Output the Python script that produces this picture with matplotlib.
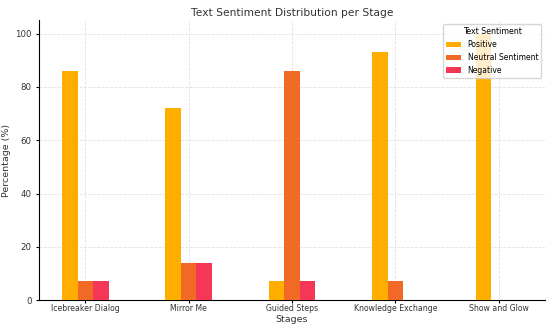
import matplotlib.pyplot as plt
import numpy as np

# 数据
stages = ['Icebreaker Dialog', 'Mirror Me', 'Guided Steps', 'Knowledge Exchange', 'Show and Glow']
positive = [86, 72, 7, 93, 100]
neutral = [7, 14, 86, 7, 0]
negative = [7, 14, 7, 0, 0]

series_names = ['Positive', 'Neutral Sentiment', 'Negative']
colors = ['#FFAE00', '#F06A26', '#F53654']

x = np.arange(len(stages))
width = 0.15

fig, ax = plt.subplots(figsize=(5.5, 3.28), dpi=100)
fig.subplots_adjust(left=0.071, right=0.991, bottom=0.085, top=0.938)

for i, (vals, name, c) in enumerate(zip([positive, neutral, negative], series_names, colors)):
    ax.bar(x + (i - 1) * width, vals, width, label=name, color=c, zorder=3)

ax.set_xticks(x)
ax.set_xticklabels(stages, fontsize=5.6, color='#333333')
ax.tick_params(axis='y', labelsize=6.2, labelcolor='#333333')
ax.tick_params(axis='x', pad=1)
ax.tick_params(axis='both', length=2)

ax.set_title('Text Sentiment Distribution per Stage', fontsize=7.7, color='#333333', pad=3)
ax.set_xlabel('Stages', fontsize=6.8, color='#333333', labelpad=1)
ax.set_ylabel('Percentage (%)', fontsize=6.8, color='#333333', labelpad=3)

ax.grid(True, linestyle='--', color='#e2e2e2', linewidth=0.6, zorder=0)
ax.spines['top'].set_visible(False)
ax.spines['right'].set_visible(False)

ax.legend(title='Text Sentiment', loc='upper right', fontsize=5.5, title_fontsize=5.7)

plt.savefig('out.png', dpi=100)
